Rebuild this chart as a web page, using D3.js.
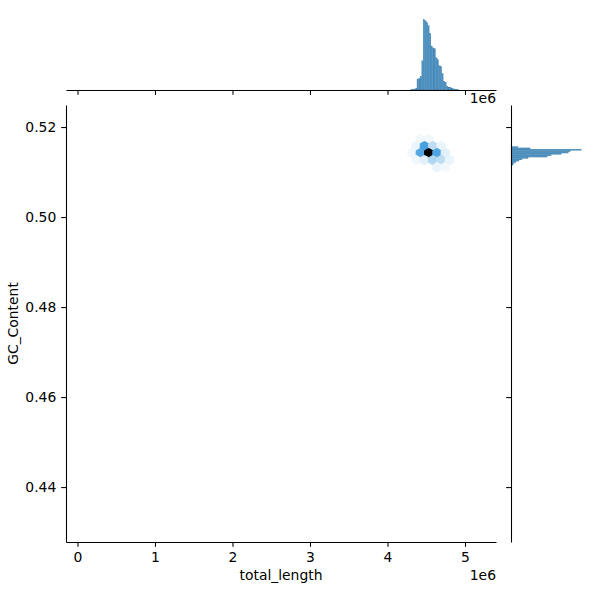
<!DOCTYPE html>
<html><head><meta charset="utf-8">
<script src="https://cdn.jsdelivr.net/npm/d3@7"></script>
<style>
body{margin:0;background:#fff}
text{font-family:"DejaVu Sans",sans-serif}
</style>
</head><body><svg id="c" width="600" height="600"></svg>
<script>
// ---------- data ----------
const xTicks = [0, 1e6, 2e6, 3e6, 4e6, 5e6];
const yTicks = [0.44, 0.46, 0.48, 0.50, 0.52];
const xLabel = "total_length";
const yLabel = "GC_Content";
const offsetText = "1e6";

// hexbin cells (centre x, centre y, count)
const hexX = [4.424e6, 4.532e6,
              4.370e6, 4.477e6, 4.585e6, 4.692e6,
              4.316e6, 4.424e6, 4.532e6, 4.639e6, 4.746e6,
              4.370e6, 4.477e6, 4.585e6, 4.692e6, 4.800e6,
              4.639e6, 4.746e6];
const hexY = [0.51733, 0.51733,
              0.51578, 0.51578, 0.51578, 0.51578,
              0.51422, 0.51422, 0.51422, 0.51422, 0.51422,
              0.51267, 0.51267, 0.51267, 0.51267, 0.51267,
              0.51111, 0.51111];
const hexCount = [3, 3,
                  4, 26, 10, 4,
                  3, 24, 60, 25, 5,
                  3, 5, 12, 10, 4,
                  4, 3];
const hexMinCount = 1;
const hexSizeX = 0.1075e6;   // lattice spacing in x
const hexSizeY = 0.00311;    // lattice period in y

// marginal histogram of total_length (bin left edges, counts)
const histXEdges = [4.30e6,4.32e6,4.34e6,4.36e6,4.38e6,4.40e6,4.42e6,4.44e6,4.46e6,4.48e6,
                    4.50e6,4.52e6,4.54e6,4.56e6,4.58e6,4.60e6,4.62e6,4.64e6,4.66e6,4.68e6,
                    4.70e6,4.72e6,4.74e6,4.76e6,4.78e6,4.80e6,4.82e6,4.84e6,4.86e6,4.88e6,4.90e6];
const histXCounts = [2,3,3,6,33,36,42,90,216,213,207,198,174,135,129,126,99,93,75,72,51,27,24,12,9,9,6,4,3,2,2];
const histXWidth = 0.02e6;

// marginal histogram of GC_Content (bin lower edges, counts)
const histYEdges = [0.5115,0.5118,0.5121,0.5124,0.5127,0.5130,0.5133,0.5136,0.5139,0.5142,
                    0.5145,0.5148,0.5151,0.5154,0.5157];
const histYCounts = [8,12,20,32,44,68,144,160,200,228,236,280,76,28,4];
const histYWidth = 0.0003;

// ---------- layout ----------
const svg = d3.select("#c");
const main = {l: 66, r: 496, t: 105, b: 542};
const topM = {t: 16, b: 90};
const rightM = {l: 511, r: 585};
const fs = 13.9, tickLen = 4.86, pad = 4.86, lw = 1.07;

const x = d3.scaleLinear().domain([-0.148e6, 5.4e6]).range([main.l, main.r]);
const y = d3.scaleLinear().domain([0.4278, 0.5249]).range([main.b, main.t]);

// colormap: blend of the base colour from lightness 1 to 0
const base = d3.hsl("#1f77b4");
const nStops = 12;
const stops = d3.range(nStops).map(i => d3.hsl(base.h, base.s, 1 - i / (nStops - 1)).formatHex());
const vmax = d3.max(hexCount);
const cmap = d3.scaleLinear()
  .domain(d3.range(nStops).map(i => hexMinCount + (vmax - hexMinCount) * i / (nStops - 1)))
  .range(stops).interpolate(d3.interpolateRgb);

// ---------- hexbin ----------
const hexG = svg.append("g");
const hexPts = [[0.5,-0.5],[0.5,0.5],[0,1],[-0.5,0.5],[-0.5,-0.5],[0,-1]];
hexX.forEach((cx, i) => {
  const cy = hexY[i];
  const pts = hexPts.map(p => [x(cx + p[0] * hexSizeX), y(cy + p[1] * hexSizeY / 3)]);
  const col = cmap(hexCount[i]);
  hexG.append("path")
    .attr("d", "M" + pts.map(p => p.join(",")).join("L") + "Z")
    .attr("fill", col).attr("stroke", col).attr("stroke-width", 1);
});

// ---------- top marginal ----------
const yTop = d3.scaleLinear().domain([0, d3.max(histXCounts) * 1.05]).range([topM.b, topM.t]);
svg.append("g").selectAll("rect").data(histXEdges).join("rect")
  .attr("x", d => x(d))
  .attr("width", d => x(d + histXWidth) - x(d))
  .attr("y", (d, i) => yTop(histXCounts[i]))
  .attr("height", (d, i) => yTop(0) - yTop(histXCounts[i]))
  .attr("fill", "#1f77b4").attr("fill-opacity", 0.8)
  .attr("stroke", "#1a4f78").attr("stroke-opacity", 0.5).attr("stroke-width", 0.2);

// ---------- right marginal ----------
const xRight = d3.scaleLinear().domain([0, d3.max(histYCounts) * 1.05]).range([rightM.l, rightM.r]);
svg.append("g").selectAll("rect").data(histYEdges).join("rect")
  .attr("x", xRight(0))
  .attr("width", (d, i) => xRight(histYCounts[i]) - xRight(0))
  .attr("y", d => y(d + histYWidth))
  .attr("height", d => y(d) - y(d + histYWidth))
  .attr("fill", "#1f77b4").attr("fill-opacity", 0.8)
  .attr("stroke", "#1a4f78").attr("stroke-opacity", 0.5).attr("stroke-width", 0.2);

// ---------- axes ----------
function styleAxis(g) {
  g.selectAll("path.domain").attr("stroke", "#000").attr("stroke-width", lw);
  g.selectAll(".tick line").attr("stroke", "#000").attr("stroke-width", lw);
  g.selectAll("text").attr("font-size", fs).attr("fill", "#000")
    .style("font-family", "'DejaVu Sans', sans-serif");
}
// main x
svg.append("g").attr("transform", `translate(0,${main.b})`)
  .call(d3.axisBottom(x).tickValues(xTicks).tickSizeInner(tickLen).tickSizeOuter(0)
        .tickPadding(pad).tickFormat(d => d3.format("d")(d / 1e6)))
  .call(styleAxis);
// main y
svg.append("g").attr("transform", `translate(${main.l},0)`)
  .call(d3.axisLeft(y).tickValues(yTicks).tickSizeInner(tickLen).tickSizeOuter(0)
        .tickPadding(pad).tickFormat(d3.format(".2f")))
  .call(styleAxis);
// top marginal x axis (no labels)
svg.append("g").attr("transform", `translate(0,${topM.b})`)
  .call(d3.axisBottom(x).tickValues(xTicks).tickSizeInner(tickLen).tickSizeOuter(0)
        .tickFormat(""))
  .call(styleAxis);
// right marginal y axis (no labels)
svg.append("g").attr("transform", `translate(${rightM.l},0)`)
  .call(d3.axisLeft(y).tickValues(yTicks).tickSizeInner(tickLen).tickSizeOuter(0)
        .tickFormat(""))
  .call(styleAxis);

// labels
svg.append("text").attr("x", (main.l + main.r) / 2).attr("y", 580)
  .attr("text-anchor", "middle").attr("font-size", fs).text(xLabel);
svg.append("text").attr("transform", `translate(18,${(main.t + main.b) / 2}) rotate(-90)`)
  .attr("text-anchor", "middle").attr("font-size", fs).text(yLabel);
svg.append("text").attr("x", main.r).attr("y", 580)
  .attr("text-anchor", "end").attr("font-size", fs).text(offsetText);
svg.append("text").attr("x", main.r).attr("y", 103)
  .attr("text-anchor", "end").attr("font-size", fs).text(offsetText);
</script>
</body></html>
